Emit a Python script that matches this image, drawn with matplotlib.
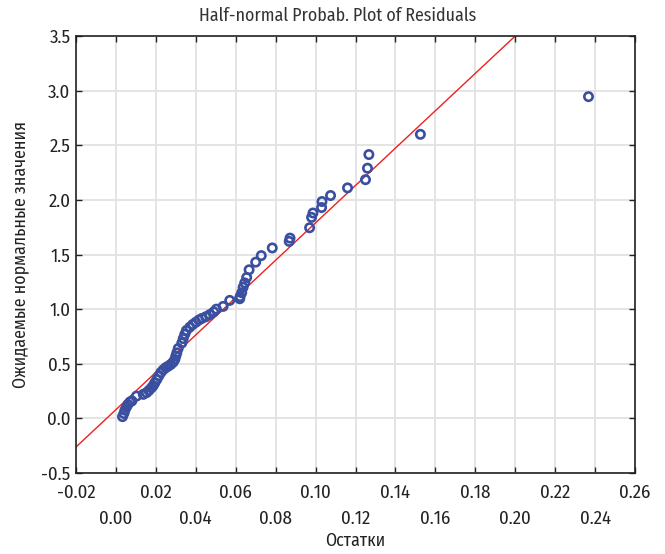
import numpy as np
import matplotlib
matplotlib.use("Agg")
import matplotlib.pyplot as plt

# residuals (x) and expected half-normal values (y)
resid = [0.0033, 0.0040, 0.0045, 0.0053, 0.0060, 0.0070, 0.0080, 0.0103, 0.0137,
         0.0153, 0.0165, 0.0178, 0.0187, 0.0195, 0.0205, 0.0215, 0.0225, 0.0237,
         0.0250, 0.0262, 0.0275, 0.0287, 0.0295, 0.0300, 0.0305, 0.0312, 0.0330,
         0.0337, 0.0345, 0.0353, 0.0370, 0.0385, 0.0400, 0.0415, 0.0430, 0.0450,
         0.0470, 0.0490, 0.0503, 0.0537, 0.0570, 0.0620, 0.0622, 0.0630, 0.0637,
         0.0645, 0.0655, 0.0667, 0.0700, 0.0728, 0.0783, 0.0868, 0.0872, 0.0970,
         0.0980, 0.0987, 0.1030, 0.1032, 0.1075, 0.1160, 0.1250, 0.1260, 0.1267,
         0.1525, 0.2367]
expected = [0.016, 0.045, 0.075, 0.105, 0.128, 0.150, 0.160, 0.204, 0.220,
            0.235, 0.255, 0.280, 0.300, 0.326, 0.357, 0.390, 0.420, 0.445,
            0.465, 0.478, 0.494, 0.515, 0.540, 0.570, 0.600, 0.640, 0.690,
            0.730, 0.770, 0.805, 0.835, 0.860, 0.880, 0.900, 0.915, 0.930,
            0.950, 0.975, 1.000, 1.025, 1.080, 1.095, 1.115, 1.150, 1.200,
            1.240, 1.290, 1.360, 1.430, 1.490, 1.560, 1.620, 1.650, 1.745,
            1.840, 1.880, 1.930, 1.985, 2.040, 2.110, 2.185, 2.290, 2.415,
            2.600, 2.945]

# reference line
line_slope = 17.1
line_icpt = 0.08

xticks = np.round(np.arange(-0.02, 0.2601, 0.02), 2)
xlabels = [("%.2f" % v) if i % 2 == 0 else ("\n%.2f" % v) for i, v in enumerate(xticks)]
yticks = np.arange(-0.5, 3.51, 0.5)

plt.rcParams['font.family'] = ['Fira Sans Condensed', 'DejaVu Sans']

fig = plt.figure(figsize=(6.65, 5.54), dpi=100)
ax = fig.add_axes([0.1143, 0.1462, 0.8406, 0.7888])

ax.grid(True, color='#e4e4e4', linewidth=1.4)
ax.set_axisbelow(True)

lx = np.array([-0.02, 0.26])
ax.plot(lx, line_icpt + line_slope * lx, color='#ee2020', linewidth=1.0, zorder=2)

ax.scatter(resid, expected, s=36, facecolors='none', edgecolors='#3a4fa0',
           linewidths=1.9, zorder=3)

ax.set_xlim(-0.02, 0.26)
ax.set_ylim(-0.5, 3.5)
ax.set_xticks(xticks)
ax.set_xticklabels(xlabels, linespacing=1.55)
ax.set_yticks(yticks)
ax.set_yticklabels(["%.1f" % v for v in yticks])
ax.tick_params(direction='in', length=4, width=1, top=True, right=True,
               labelsize=13.5, colors='#222222')
ax.tick_params(axis='x', pad=8)
ax.tick_params(axis='y', pad=4)
for s in ax.spines.values():
    s.set_linewidth(1.2)
    s.set_color('#222222')

fig.text(0.508, 0.971, 'Half-normal Probab. Plot of Residuals', fontsize=12.8,
         ha='center', va='center', color='#333333')
fig.text(0.534, 0.023, 'Остатки', fontsize=12.8, ha='center', va='center', color='#222222')
fig.text(0.030, 0.541, 'Ожидаемые нормальные значения', fontsize=12.8, rotation=90,
         ha='center', va='center', color='#222222')

fig.savefig('out.png', dpi=100)
